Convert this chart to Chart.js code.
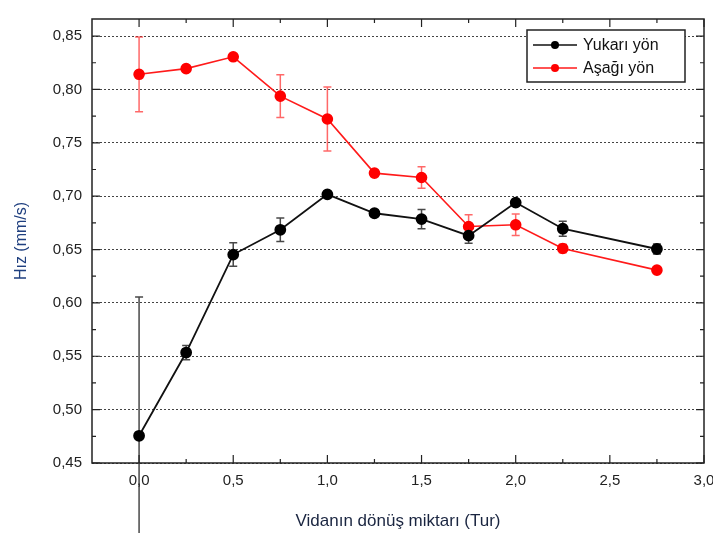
<!DOCTYPE html>
<html>
<head>
<meta charset="utf-8">
<script src="https://cdn.jsdelivr.net/npm/chart.js@4.4.0/dist/chart.umd.min.js"></script>
<style>
  body { margin: 0; background: #fff; }
</style>
</head>
<body>
<canvas id="hizChart" width="713" height="533"></canvas>
<script>
// veri
const turValues = [0, 0.25, 0.5, 0.75, 1.0, 1.25, 1.5, 1.75, 2.0, 2.25, 2.75];
const yukariValues = [0.4755, 0.5535, 0.6453, 0.6685, 0.7017, 0.684, 0.6785, 0.663, 0.694, 0.6695, 0.6505];
const yukariErrors = [0.13, 0.0067, 0.011, 0.011, 0.002, 0.003, 0.009, 0.007, 0.002, 0.007, 0.0047];
const asagiValues = [0.8142, 0.8195, 0.8306, 0.7937, 0.7723, 0.7216, 0.7175, 0.6716, 0.6732, 0.651, 0.6307];
const asagiErrors = [0.035, 0, 0, 0.02, 0.03, 0, 0.01, 0.011, 0.01, 0.004, 0];
const seriesLabels = ['Yukarı yön', 'Aşağı yön'];

const FONT = '"Liberation Sans", Arial, sans-serif';

function toPoints(xs, ys) {
    return xs.map((x, i) => ({ x: x, y: ys[i] }));
}

function commaFmt(digits) {
    return function (value) {
        return Number(value).toFixed(digits).replace('.', ',');
    };
}

// hata cubuklari, cerceve, ic tikler ve lejant
const extrasPlugin = {
    id: 'extras',
    beforeDatasetsDraw(chart) {
        const ctx = chart.ctx;
        const y = chart.scales.y;
        const errSets = [yukariErrors, asagiErrors];
        const errColors = ['rgba(40,40,40,0.85)', 'rgba(255,40,40,0.7)'];
        chart.data.datasets.forEach((ds, di) => {
            const meta = chart.getDatasetMeta(di);
            ctx.save();
            ctx.strokeStyle = errColors[di];
            ctx.lineWidth = 1.5;
            meta.data.forEach((pt, i) => {
                const e = errSets[di][i];
                if (!e) return;
                const v = ds.data[i].y;
                const top = y.getPixelForValue(v + e);
                const bot = y.getPixelForValue(v - e);
                ctx.beginPath();
                ctx.moveTo(pt.x, top);
                ctx.lineTo(pt.x, bot);
                ctx.moveTo(pt.x - 4, top);
                ctx.lineTo(pt.x + 4, top);
                ctx.moveTo(pt.x - 4, bot);
                ctx.lineTo(pt.x + 4, bot);
                ctx.stroke();
            });
            ctx.restore();
        });
    },
    afterDraw(chart) {
        const ctx = chart.ctx;
        const a = chart.chartArea;
        const xs = chart.scales.x;
        const ys = chart.scales.y;
        ctx.save();
        ctx.strokeStyle = '#222';
        ctx.lineWidth = 1.5;
        ctx.strokeRect(a.left, a.top, a.right - a.left, a.bottom - a.top);

        ctx.lineWidth = 1.2;
        ctx.beginPath();
        // x tikleri (ana + ara)
        for (let v = 0; v <= 3.0001; v += 0.25) {
            const px = xs.getPixelForValue(v);
            const len = Math.abs(v * 2 - Math.round(v * 2)) < 1e-6 ? 8 : 4;
            ctx.moveTo(px, a.bottom); ctx.lineTo(px, a.bottom - len);
            ctx.moveTo(px, a.top); ctx.lineTo(px, a.top + len);
        }
        // y tikleri
        for (let v = 0.45; v <= 0.8651; v += 0.025) {
            const py = ys.getPixelForValue(v);
            const len = Math.abs(v * 20 - Math.round(v * 20)) < 1e-6 ? 8 : 4;
            ctx.moveTo(a.left, py); ctx.lineTo(a.left + len, py);
            ctx.moveTo(a.right, py); ctx.lineTo(a.right - len, py);
        }
        ctx.stroke();

        // lejant
        const lx = 527, ly = 30, lw = 158, lh = 52;
        ctx.fillStyle = '#fff';
        ctx.fillRect(lx, ly, lw, lh);
        ctx.strokeStyle = '#222';
        ctx.lineWidth = 1.5;
        ctx.strokeRect(lx, ly, lw, lh);
        ctx.font = '16px ' + FONT;
        ctx.textBaseline = 'middle';
        chart.data.datasets.forEach((ds, i) => {
            const cy = ly + 15 + i * 23;
            ctx.strokeStyle = ds.borderColor;
            ctx.lineWidth = 1.5;
            ctx.beginPath();
            ctx.moveTo(lx + 6, cy);
            ctx.lineTo(lx + 50, cy);
            ctx.stroke();
            ctx.fillStyle = ds.pointBackgroundColor;
            ctx.beginPath();
            ctx.arc(lx + 28, cy, 4, 0, Math.PI * 2);
            ctx.fill();
            ctx.fillStyle = '#111';
            ctx.fillText(ds.label, lx + 56, cy + 1);
        });
        ctx.restore();
    }
};

const ctx = document.getElementById('hizChart').getContext('2d');
new Chart(ctx, {
    type: 'line',
    data: {
        datasets: [{
            label: seriesLabels[0],
            data: toPoints(turValues, yukariValues),
            borderColor: '#111',
            backgroundColor: '#000',
            pointBackgroundColor: '#000',
            pointBorderColor: '#000',
            pointRadius: 5,
            borderWidth: 1.8,
            tension: 0
        }, {
            label: seriesLabels[1],
            data: toPoints(turValues, asagiValues),
            borderColor: '#ff1a1a',
            backgroundColor: '#ff0000',
            pointBackgroundColor: '#ff0000',
            pointBorderColor: '#ff0000',
            pointRadius: 5,
            borderWidth: 1.6,
            tension: 0
        }]
    },
    options: {
        responsive: false,
        animation: false,
        layout: { padding: { left: 0, right: 9, top: 16, bottom: 0 } },
        plugins: {
            legend: { display: false },
            tooltip: { enabled: false }
        },
        scales: {
            x: {
                type: 'linear',
                min: -0.25,
                max: 3.0,
                afterFit: function (scale) {
                    scale.height = 70;
                    scale.paddingLeft = 0;
                    scale.paddingRight = 0;
                },
                ticks: {
                    stepSize: 0.5,
                    includeBounds: false,
                    padding: 9,
                    color: '#222',
                    font: { family: FONT, size: 15 },
                    callback: commaFmt(1),
                    maxRotation: 0
                },
                grid: { display: false, drawTicks: false },
                border: { display: false },
                title: {
                    display: true,
                    text: 'Vidanın dönüş miktarı (Tur)',
                    color: '#1a2540',
                    font: { family: FONT, size: 17 },
                    padding: { top: 0, bottom: 1 }
                }
            },
            y: {
                min: 0.45,
                max: 0.866,
                afterFit: function (scale) { scale.width = 92; },
                ticks: {
                    stepSize: 0.05,
                    includeBounds: false,
                    padding: 10,
                    color: '#222',
                    font: { family: FONT, size: 15 },
                    callback: commaFmt(2)
                },
                grid: {
                    color: '#444',
                    lineWidth: 1,
                    drawTicks: false
                },
                border: { display: false, dash: [2, 2] },
                title: {
                    display: true,
                    text: 'Hız (mm/s)',
                    color: '#1f3f7f',
                    font: { family: FONT, size: 16 },
                    padding: { top: 12, bottom: 0 }
                }
            }
        }
    },
    plugins: [extrasPlugin]
});
</script>
</body>
</html>
